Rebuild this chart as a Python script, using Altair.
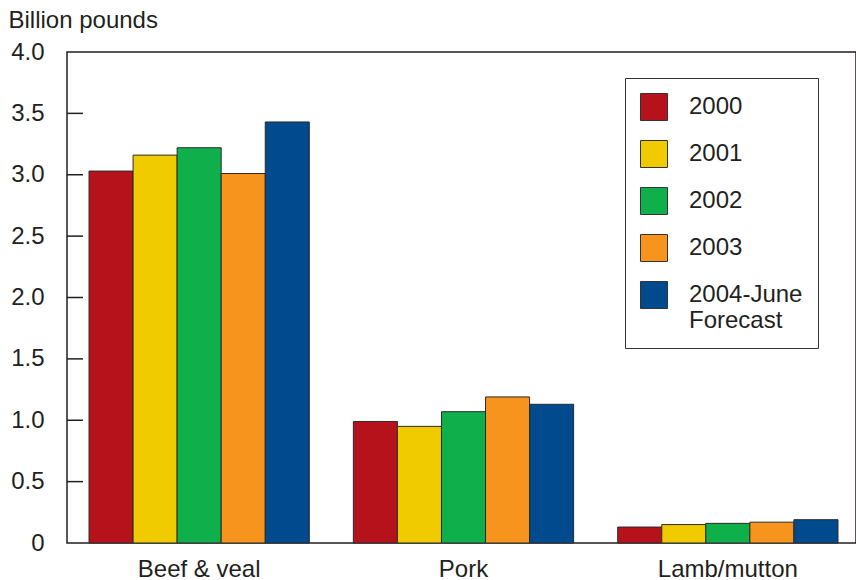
import altair as alt
import pandas as pd

meats = ["Beef & veal", "Pork", "Lamb/mutton"]
years = ["2000", "2001", "2002", "2003", "2004-June Forecast"]
colors = ["#B5121B", "#F0CB00", "#0FAF4B", "#F7941D", "#004A8D"]
v2000 = [3.03, 0.99, 0.13]
v2001 = [3.16, 0.95, 0.15]
v2002 = [3.22, 1.07, 0.16]
v2003 = [3.01, 1.19, 0.17]
v2004 = [3.43, 1.13, 0.19]
y_ticks = [0, 0.5, 1.0, 1.5, 2.0, 2.5, 3.0, 3.5, 4.0]
inner_ticks = [0.5, 1.0, 1.5, 2.0, 2.5, 3.0, 3.5]

series = [v2000, v2001, v2002, v2003, v2004]
rows = []
for yr, vals in zip(years, series):
    for m, v in zip(meats, vals):
        rows.append({"meat": m, "year": yr, "value": v})
df = pd.DataFrame(rows)
ticks_df = pd.DataFrame({"t": inner_ticks})

FONT = "Liberation Sans"
INK = "#231f20"
FS = 24

y_scale = alt.Scale(domain=[0, 4], nice=False)

bars = alt.Chart(df).mark_bar(stroke="#2b2b2b", strokeWidth=1).encode(
    x=alt.X("meat:N", sort=meats,
            scale=alt.Scale(paddingInner=0, paddingOuter=0, range=[0, 793]),
            axis=alt.Axis(title=None, domain=False, ticks=False, tickSize=0,
                          labelAngle=0, labelFontSize=FS, labelFont=FONT,
                          labelColor=INK, labelPadding=14, labelBaseline="top")),
    xOffset=alt.XOffset("year:N", sort=years,
                        scale=alt.Scale(paddingInner=0, paddingOuter=0.5)),
    y=alt.Y("value:Q", scale=y_scale,
            axis=alt.Axis(title="Billion pounds", values=y_ticks, grid=False,
                          domain=False, ticks=False, tickSize=0,
                          labelExpr="datum.value == 0 ? '0' : format(datum.value, '.1f')",
                          labelFontSize=FS, labelFont=FONT, labelColor=INK,
                          labelPadding=23,
                          titleAngle=0, titleX=-59, titleY=-25, titleAlign="left",
                          titleBaseline="alphabetic", titleFontSize=FS,
                          titleFont=FONT, titleFontWeight="normal", titleColor=INK)),
    color=alt.Color("year:N", sort=years,
                    scale=alt.Scale(domain=years, range=colors),
                    legend=alt.Legend(
                        title=None, orient="none", legendX=558, legendY=26,
                        direction="vertical",
                        symbolType="square", symbolSize=729,
                        symbolStrokeColor="#333333", symbolStrokeWidth=1,
                        symbolOpacity=1,
                        labelFontSize=FS, labelFont=FONT, labelColor=INK,
                        labelOffset=21, labelLimit=300,
                        labelExpr="datum.label == '2004-June Forecast' ? ['2004-June', 'Forecast'] : datum.label",
                        rowPadding=15, padding=15,
                        strokeColor="#333333", fillColor="white")),
)

tick_rules = alt.Chart(ticks_df).mark_rule(color=INK, strokeWidth=1.5).encode(
    y=alt.Y("t:Q", scale=y_scale),
    x=alt.value(0),
    x2=alt.value(16),
)

chart = alt.layer(bars, tick_rules).properties(
    width=789, height=491,
    padding={"left": 67, "top": 52, "right": 0, "bottom": 37},
    autosize=alt.AutoSizeParams(type="none"),
    background="white",
).configure_view(stroke=INK, strokeWidth=1.5)

chart.save("out.html", embed_options={"renderer": "svg", "actions": False})
